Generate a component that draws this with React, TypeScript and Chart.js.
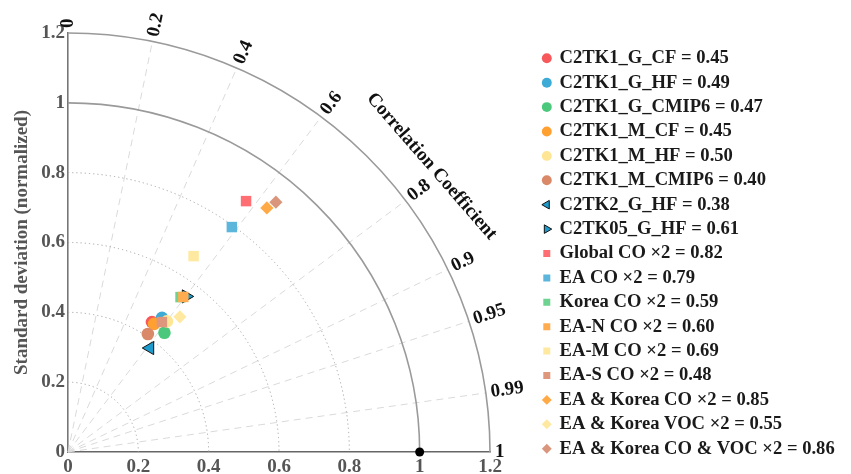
import React, { useEffect, useRef } from "react";
import { Chart, registerables } from "chart.js";

Chart.register(...registerables);

// ---------------- data ----------------
const SERIES_LABELS = [
  "C2TK1_G_CF = 0.45",
  "C2TK1_G_HF = 0.49",
  "C2TK1_G_CMIP6 = 0.47",
  "C2TK1_M_CF = 0.45",
  "C2TK1_M_HF = 0.50",
  "C2TK1_M_CMIP6 = 0.40",
  "C2TK2_G_HF = 0.38",
  "C2TK05_G_HF = 0.61",
  "Global CO ×2 = 0.82",
  "EA CO ×2 = 0.79",
  "Korea CO ×2 = 0.59",
  "EA-N CO ×2 = 0.60",
  "EA-M CO ×2 = 0.69",
  "EA-S CO ×2 = 0.48",
  "EA & Korea CO ×2 = 0.85",
  "EA & Korea VOC ×2 = 0.55",
  "EA & Korea CO & VOC ×2 = 0.86",
];

// normalized standard deviation of each experiment
const STD_DEV = [
  0.442, 0.468, 0.438, 0.441, 0.468, 0.407, 0.378, 0.558, 0.879, 0.795, 0.547,
  0.552, 0.665, 0.458, 0.899, 0.501, 0.928,
];

// correlation coefficient of each experiment
const CORRELATION = [
  0.54, 0.571, 0.626, 0.555, 0.601, 0.558, 0.616, 0.602, 0.576, 0.586, 0.585,
  0.594, 0.537, 0.583, 0.629, 0.635, 0.637,
];

const REF_STD = 1;
const REF_CORR = 1;

const STD_TICKS = [0, 0.2, 0.4, 0.6, 0.8, 1, 1.2];
const STD_TICK_LABELS = ["0", "0.2", "0.4", "0.6", "0.8", "1", "1.2"];
const CORR_TICKS = [0, 0.2, 0.4, 0.6, 0.8, 0.9, 0.95, 0.99, 1];
const CORR_TICK_LABELS = ["0", "0.2", "0.4", "0.6", "0.8", "0.9", "0.95", "0.99", "1"];
const CORR_LINES = [0.2, 0.4, 0.6, 0.8, 0.9, 0.95, 0.99];
const STD_DOTTED = [0.2, 0.4, 0.6, 0.8];
const STD_SOLID = [1, 1.2];
const STD_MAX = 1.2;

// ---------------- styles ----------------
const MARKERS = [
  "circle", "circle", "circle", "circle", "circle", "circle",
  "triangle", "triangle",
  "rect", "rect", "rect", "rect", "rect", "rect",
  "rectRot", "rectRot", "rectRot",
];
const ROTATIONS = [0, 0, 0, 0, 0, 0, -90, 90, 0, 0, 0, 0, 0, 0, 0, 0, 0];
const RADII = [6.3, 6.3, 6.3, 6.3, 6.3, 6.3, 7.6, 7.6, 7.4, 7.4, 7.4, 7.4, 7.4, 7.4, 6.6, 6.6, 6.6];
const FILLS = [
  "rgb(247,88,90)",
  "rgb(62,170,214)",
  "rgb(76,200,124)",
  "rgb(255,160,48)",
  "rgb(255,230,150)",
  "rgb(217,137,104)",
  "rgb(30,155,205)",
  "rgb(30,155,205)",
  "rgb(255,110,115)",
  "rgb(92,182,220)",
  "rgb(110,210,145)",
  "rgb(255,172,80)",
  "rgb(255,233,160)",
  "rgb(222,150,125)",
  "rgb(255,170,70)",
  "rgb(255,233,160)",
  "rgb(218,150,125)",
];
const EDGE_WIDTHS = [0, 0, 0, 0, 0, 0, 1, 1, 0, 0, 0, 0, 0, 0, 0, 0, 0];

const FONT_FAMILY = "'Times New Roman', 'Liberation Serif', serif";
const GREY_TEXT = "#555555";

const taylorPlugin = {
  id: "taylorGrid",
  beforeDatasetsDraw(chart: any) {
    const { ctx } = chart;
    const xs = chart.scales.x;
    const ys = chart.scales.y;
    const ox = xs.getPixelForValue(0);
    const oy = ys.getPixelForValue(0);
    const rx = (r: number) => xs.getPixelForValue(r) - ox;
    const ry = (r: number) => oy - ys.getPixelForValue(r);
    const px = (r: number, th: number) => xs.getPixelForValue(r * Math.cos(th));
    const py = (r: number, th: number) => ys.getPixelForValue(r * Math.sin(th));

    ctx.save();
    // radial correlation lines
    ctx.strokeStyle = "#dadada";
    ctx.lineWidth = 1;
    ctx.setLineDash([7, 5]);
    for (const c of CORR_LINES) {
      const th = Math.acos(c);
      ctx.beginPath();
      ctx.moveTo(ox, oy);
      ctx.lineTo(px(STD_MAX, th), py(STD_MAX, th));
      ctx.stroke();
    }
    // dotted std arcs
    ctx.strokeStyle = "#a3a3a3";
    ctx.lineWidth = 1;
    ctx.setLineDash([1.2, 3]);
    for (const r of STD_DOTTED) {
      ctx.beginPath();
      ctx.ellipse(ox, oy, rx(r), ry(r), 0, -Math.PI / 2, 0);
      ctx.stroke();
    }
    // solid std arcs
    ctx.setLineDash([]);
    ctx.strokeStyle = "#9a9a9a";
    ctx.lineWidth = 1.6;
    for (const r of STD_SOLID) {
      ctx.beginPath();
      ctx.ellipse(ox, oy, rx(r), ry(r), 0, -Math.PI / 2, 0);
      ctx.stroke();
    }

    // correlation tick labels
    ctx.fillStyle = "#111111";
    ctx.font = `bold 19px ${FONT_FAMILY}`;
    ctx.textAlign = "left";
    ctx.textBaseline = "middle";
    CORR_TICKS.forEach((c, i) => {
      const th = Math.acos(c);
      const gap = 5;
      const lx = px(STD_MAX, th) + gap * Math.cos(th);
      const ly = py(STD_MAX, th) - gap * Math.sin(th);
      ctx.save();
      ctx.translate(lx, ly);
      ctx.rotate(-th);
      ctx.fillText(CORR_TICK_LABELS[i], 0, 0);
      ctx.restore();
    });

    // axis title for correlation
    ctx.save();
    ctx.translate(xs.getPixelForValue(1.034), ys.getPixelForValue(0.818));
    ctx.rotate((49 * Math.PI) / 180);
    ctx.textAlign = "center";
    ctx.fillText("Correlation Coefficient", 0, 0);
    ctx.restore();

    ctx.restore();
  },
};

export default function App() {
  const ref = useRef<HTMLCanvasElement>(null);

  useEffect(() => {
    const canvas = ref.current;
    if (!canvas) return;
    Chart.defaults.font.family = FONT_FAMILY;

    const toXY = (s: number, c: number) => ({
      x: s * c,
      y: s * Math.sqrt(Math.max(0, 1 - c * c)),
    });

    const datasets: any[] = SERIES_LABELS.map((label, i) => ({
      label,
      data: [toXY(STD_DEV[i], CORRELATION[i])],
      pointStyle: MARKERS[i],
      pointRotation: ROTATIONS[i],
      pointRadius: RADII[i],
      pointHoverRadius: RADII[i],
      pointBackgroundColor: FILLS[i],
      backgroundColor: FILLS[i],
      pointBorderColor: "#111111",
      borderColor: "#111111",
      pointBorderWidth: EDGE_WIDTHS[i],
      borderWidth: EDGE_WIDTHS[i],
      order: -i,
      clip: false,
    }));
    datasets.push({
      label: "Reference",
      data: [toXY(REF_STD, REF_CORR)],
      pointStyle: "circle",
      pointRadius: 4.5,
      pointHoverRadius: 4.5,
      pointBackgroundColor: "#000000",
      backgroundColor: "#000000",
      pointBorderWidth: 0,
      borderWidth: 0,
      order: 5,
      clip: false,
    });

    const tickFont = { size: 19, weight: "bold" as const };

    const chart = new Chart(canvas, {
      type: "scatter",
      data: { datasets },
      plugins: [taylorPlugin],
      options: {
        animation: false,
        responsive: true,
        maintainAspectRatio: false,
        events: [],
        layout: { padding: { top: 33, right: 13.5, bottom: 0, left: 0 } },
        scales: {
          x: {
            type: "linear",
            position: "bottom",
            min: 0,
            max: STD_MAX,
            grid: { display: false, drawTicks: false },
            border: { display: true, color: "#666666", width: 1.6 },
            ticks: {
              autoSkip: false,
              maxRotation: 0,
              padding: 4,
              color: GREY_TEXT,
              font: tickFont,
              callback: (_v: any, i: number) => STD_TICK_LABELS[i],
            },
            afterBuildTicks: (s: any) => {
              s.ticks = STD_TICKS.map((v) => ({ value: v }));
            },
            afterFit: (s: any) => {
              s.height = 22;
            },
          },
          y: {
            type: "linear",
            position: "left",
            min: 0,
            max: STD_MAX,
            grid: { display: false, drawTicks: false },
            border: { display: true, color: "#777777", width: 1.6 },
            ticks: {
              autoSkip: false,
              padding: 3,
              color: GREY_TEXT,
              font: tickFont,
              callback: (_v: any, i: number) => STD_TICK_LABELS[i],
            },
            afterBuildTicks: (s: any) => {
              s.ticks = STD_TICKS.map((v) => ({ value: v }));
            },
            title: {
              display: true,
              text: "Standard deviation (normalized)",
              color: GREY_TEXT,
              font: { size: 19, weight: "bold" },
              padding: { top: 11, bottom: 0 },
            },
            afterFit: (s: any) => {
              s.width = 68;
            },
          },
          spacer: {
            type: "linear",
            position: "right",
            display: true,
            grid: { display: false, drawTicks: false },
            border: { display: false },
            ticks: { display: false },
            afterFit: (s: any) => {
              s.width = 47.5;
            },
          },
        },
        plugins: {
          tooltip: { enabled: false },
          legend: {
            display: true,
            position: "right",
            align: "start",
            maxWidth: 300,
            title: {
              display: true,
              text: "",
              font: { size: 10.2, lineHeight: 1 },
              padding: 0,
            },
            labels: {
              usePointStyle: true,
              boxWidth: 7,
              boxHeight: 7,
              padding: 5.8,
              color: "#1a1a1a",
              font: { size: 18.6, weight: "bold" },
              filter: (item: any) => item.text !== "Reference",
              sort: (a: any, b: any) => a.datasetIndex - b.datasetIndex,
            },
          },
        },
      } as any,
    });

    return () => chart.destroy();
  }, []);

  return (
    <div style={{ position: "fixed", left: 0, top: 0, width: 851, height: 474 }}>
      <canvas ref={ref} />
    </div>
  );
}
